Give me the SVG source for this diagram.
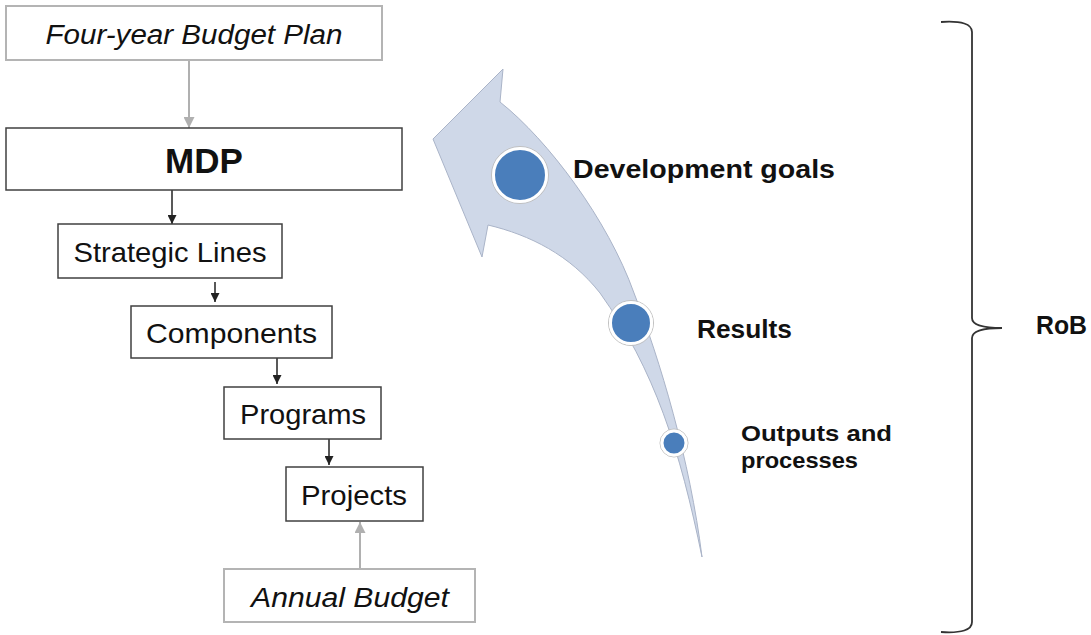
<svg xmlns="http://www.w3.org/2000/svg" width="1091" height="635" viewBox="0 0 1091 635">
<style>
.box{fill:#fff;stroke:#404040;stroke-width:1.5}
.gbox{fill:#fff;stroke:#b4b4b4;stroke-width:2}
.t{font-family:"Liberation Sans",Arial,sans-serif;font-size:28px;fill:#111;text-anchor:middle}
.it{font-style:italic;font-size:27px}
.b{font-family:"Liberation Sans",Arial,sans-serif;font-weight:bold;fill:#111}
.c{stroke:#222;stroke-width:1.5;fill:none}
.gc{stroke:#b0b0b0;stroke-width:2;fill:none}
.dot{fill:#4a7ebb;stroke:#fff;stroke-width:3}
.ring{fill:none;stroke:#c0c0c0;stroke-width:1}
</style>
<defs>
<marker id="ab" viewBox="0 0 10 10" refX="10" refY="5" markerWidth="9" markerHeight="9" markerUnits="userSpaceOnUse" orient="auto"><path d="M0,0 L10,5 L0,10 Z" fill="#222"/></marker>
<marker id="ag" viewBox="0 0 10 10" refX="10" refY="5" markerWidth="11" markerHeight="11" markerUnits="userSpaceOnUse" orient="auto"><path d="M0,0 L10,5 L0,10 Z" fill="#b0b0b0"/></marker>
</defs>
<rect width="1091" height="635" fill="#fff"/>
<g id="connectors">
<line class="gc" x1="189" y1="61" x2="189" y2="128" marker-end="url(#ag)"/>
<line class="c" x1="172" y1="190" x2="172" y2="224" marker-end="url(#ab)"/>
<line class="c" x1="215" y1="282" x2="215" y2="302" marker-end="url(#ab)"/>
<line class="c" x1="277" y1="358" x2="277" y2="384" marker-end="url(#ab)"/>
<line class="c" x1="329" y1="439" x2="329" y2="465" marker-end="url(#ab)"/>
<line class="gc" x1="360" y1="568" x2="360" y2="522" marker-end="url(#ag)"/>
</g>
<g id="n-fourYear"><rect class="gbox" x="6" y="6" width="376" height="54"/><text class="t it" x="194" y="44" textLength="297" lengthAdjust="spacingAndGlyphs">Four-year Budget Plan</text></g>
<g id="n-mdp"><rect class="box" x="6" y="128" width="396" height="62"/><text class="b" x="204" y="173" font-size="35" text-anchor="middle">MDP</text></g>
<g id="n-strategic"><rect class="box" x="58" y="224" width="224" height="54"/><text class="t" x="170" y="262" textLength="193" lengthAdjust="spacingAndGlyphs">Strategic Lines</text></g>
<g id="n-components"><rect class="box" x="131" y="306" width="201" height="52"/><text class="t" x="231.5" y="343" textLength="171" lengthAdjust="spacingAndGlyphs">Components</text></g>
<g id="n-programs"><rect class="box" x="224" y="387" width="157" height="52"/><text class="t" x="303" y="424" textLength="126" lengthAdjust="spacingAndGlyphs">Programs</text></g>
<g id="n-projects"><rect class="box" x="286" y="467" width="137" height="54"/><text class="t" x="354" y="505" textLength="106" lengthAdjust="spacingAndGlyphs">Projects</text></g>
<g id="n-annual"><rect class="gbox" x="224" y="569" width="251" height="53"/><text class="t it" x="350" y="607" textLength="198" lengthAdjust="spacingAndGlyphs">Annual Budget</text></g>
<g id="n-arrow">
<path d="M433,139 L503,69 L500,102 C548,140 608,220 634,293 C660,360 690,460 702,557 C680,450 655,370 600,293 C570,255 530,235 488,225 L482,257 Z" fill="#cfd8e8" stroke="#aab4c8" stroke-width="1"/>
<circle class="ring" cx="520" cy="175" r="28.5"/><circle class="dot" cx="520" cy="175" r="26.5"/>
<circle class="ring" cx="631" cy="323" r="22.5"/><circle class="dot" cx="631" cy="323" r="20.5"/>
<circle class="ring" cx="674" cy="443" r="14"/><circle class="dot" cx="674" cy="443" r="12"/>
</g>
<g id="n-dev"><text class="b" x="573" y="178" font-size="26" textLength="262" lengthAdjust="spacingAndGlyphs">Development goals</text></g>
<g id="n-results"><text class="b" x="697" y="338" font-size="26" textLength="95" lengthAdjust="spacingAndGlyphs">Results</text></g>
<g id="n-outputs"><text class="b" x="741" y="441" font-size="22.5" textLength="151" lengthAdjust="spacingAndGlyphs">Outputs and</text><text class="b" x="741" y="468" font-size="22.5" textLength="117" lengthAdjust="spacingAndGlyphs">processes</text></g>
<g id="n-rob">
<path d="M941,22 Q972,20 972,32 L972,318 Q972,328 1002,328 Q972,328 972,338 L972,622 Q972,634 941,632" fill="none" stroke="#333" stroke-width="1.8"/>
<text class="b" x="1036" y="334" font-size="26" textLength="51" lengthAdjust="spacingAndGlyphs">RoB</text>
</g>
</svg>
